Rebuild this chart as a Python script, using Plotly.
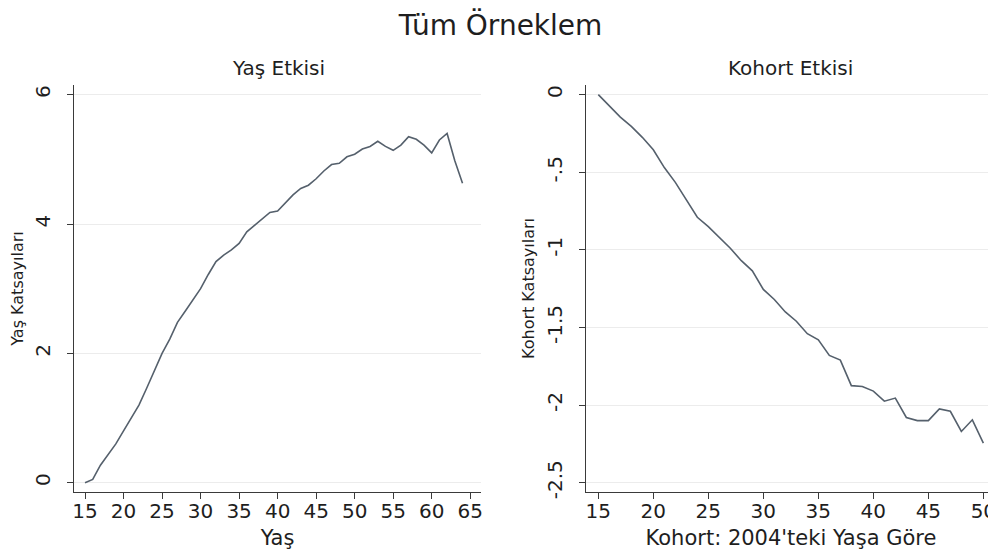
import plotly.graph_objects as go

# ---- data ----
age = list(range(15, 65))
age_coef = [0.00, 0.05, 0.27, 0.43, 0.60, 0.80, 1.00, 1.20, 1.46, 1.72,
            2.00, 2.22, 2.48, 2.65, 2.82, 3.00, 3.22, 3.42, 3.52, 3.60,
            3.70, 3.88, 3.98, 4.08, 4.18, 4.20, 4.33, 4.45, 4.55, 4.60,
            4.70, 4.82, 4.92, 4.94, 5.04, 5.08, 5.16, 5.20, 5.28, 5.20,
            5.14, 5.22, 5.35, 5.31, 5.22, 5.10, 5.30, 5.40, 4.98, 4.63]

cohort = list(range(15, 51))
cohort_coef = [0.00, -0.07, -0.145, -0.205, -0.275, -0.355, -0.47, -0.565, -0.68, -0.79,
               -0.85, -0.92, -0.99, -1.07, -1.135, -1.255, -1.32, -1.40, -1.46, -1.54,
               -1.58, -1.68, -1.71, -1.875, -1.88, -1.91, -1.975, -1.955, -2.08, -2.10,
               -2.10, -2.025, -2.04, -2.17, -2.095, -2.245]

age_ticks = [15, 20, 25, 30, 35, 40, 45, 50, 55, 60, 65]
age_yticks = [0, 2, 4, 6]
cohort_ticks = [15, 20, 25, 30, 35, 40, 45, 50]
cohort_yticks = [0, -0.5, -1, -1.5, -2, -2.5]
cohort_ytick_text = ["0", "-.5", "-1", "-1.5", "-2", "-2.5"]

main_title = "Tüm Örneklem"
panel_titles = ["Yaş Etkisi", "Kohort Etkisi"]
x_titles = ["Yaş", "Kohort: 2004'teki Yaşa Göre"]
y_titles = ["Yaş Katsayıları", "Kohort Katsayıları"]

# ---- figure (page has an 8px body margin, so figure is 8px smaller) ----
OFF = 8
W, H = 996 - OFF, 554 - OFF
ML, MR, MT, MB = 74 - OFF, 0, 85 - OFF, 62
PW, PH = W - ML - MR, H - MT - MB
FONT = "DejaVu Sans, Liberation Sans, Arial, sans-serif"
TXT = "#1e1e1e"
LINE_COLOR = "#55606c"
AXIS_COLOR = "#3a3a3a"
GRID_COLOR = "#ececec"


def px_x(page_x):
    return (page_x - OFF - ML) / PW


def px_y(page_y):
    return (H - MB - (page_y - OFF)) / PH


fig = go.Figure()
fig.add_trace(go.Scatter(x=age, y=age_coef, mode="lines",
                         line=dict(color=LINE_COLOR, width=1.6),
                         xaxis="x", yaxis="y", showlegend=False))
fig.add_trace(go.Scatter(x=cohort, y=cohort_coef, mode="lines",
                         line=dict(color=LINE_COLOR, width=1.6),
                         xaxis="x2", yaxis="y2", showlegend=False))

common_x = dict(showline=True, linecolor=AXIS_COLOR, linewidth=1.2,
                ticks="outside", ticklen=6, tickcolor=AXIS_COLOR, tickwidth=1.2,
                showgrid=False, zeroline=False, automargin=False,
                ticklabelstandoff=-5, ticklabeloverflow="allow",
                tickfont=dict(size=20, color=TXT, family=FONT),
                title_font=dict(size=21, color=TXT, family=FONT),
                title_standoff=8)
common_y = dict(showline=True, linecolor=AXIS_COLOR, linewidth=1.2,
                ticks="outside", ticklen=6, tickcolor=AXIS_COLOR, tickwidth=1.2,
                showgrid=True, gridcolor=GRID_COLOR, gridwidth=1, zeroline=False,
                automargin=False, tickangle=-90, ticklabelstandoff=9,
                ticklabeloverflow="allow",
                tickfont=dict(size=20, color=TXT, family=FONT),
                title_font=dict(size=16, color=TXT, family=FONT),
                title_standoff=4)

fig.update_layout(
    width=W, height=H,
    margin=dict(l=ML, r=MR, t=MT, b=MB),
    paper_bgcolor="white", plot_bgcolor="white",
    font=dict(family=FONT, color=TXT),
    title=dict(text=main_title, x=(500.5 - OFF) / W, xanchor="center", xref="container",
               y=1 - (25 - OFF) / H, yanchor="middle", yref="container",
               font=dict(size=28, color=TXT, family=FONT)),
    xaxis=dict(domain=[0, px_x(481)], range=[13.57, 66.4],
               tickvals=age_ticks, title_text=x_titles[0], anchor="y", **common_x),
    yaxis=dict(domain=[0, 1], range=[-0.144, 6.15], tickvals=age_yticks,
               title_text=y_titles[0], anchor="x", **common_y),
    xaxis2=dict(domain=[px_x(586), 1.0], range=[13.88, 51.15],
                tickvals=cohort_ticks, title_text=x_titles[1], anchor="y2", **common_x),
    yaxis2=dict(domain=[0, 1], range=[-2.56, 0.062], tickvals=cohort_yticks,
                ticktext=cohort_ytick_text, title_text=y_titles[1], anchor="x2", **common_y),
    annotations=[
        dict(text=panel_titles[0], x=px_x(278), y=px_y(68), xref="paper", yref="paper",
             showarrow=False, xanchor="center", yanchor="middle",
             font=dict(size=20, color=TXT, family=FONT)),
        dict(text=panel_titles[1], x=px_x(790), y=px_y(68), xref="paper", yref="paper",
             showarrow=False, xanchor="center", yanchor="middle",
             font=dict(size=20, color=TXT, family=FONT)),
    ],
)

fig.write_html("out.html")
